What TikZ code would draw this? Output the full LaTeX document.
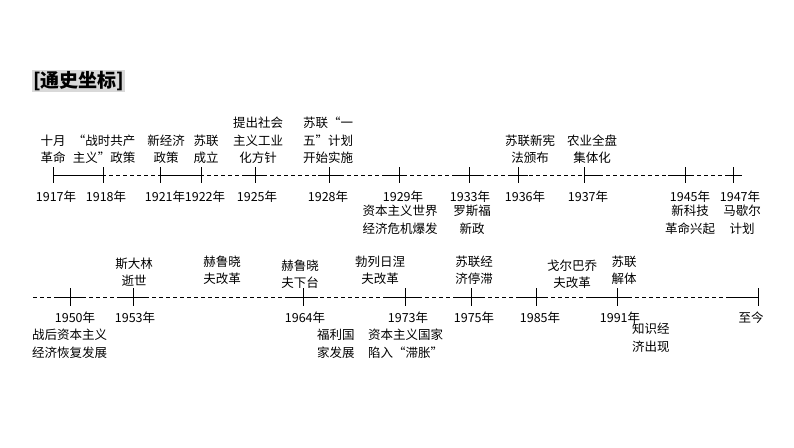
\documentclass[tikz,border=0pt]{standalone}
\usepackage{fontspec}
\setmainfont{Noto Sans CJK SC}
\begin{document}
\begin{tikzpicture}[x=1pt,y=-1pt,
  lab/.style={inner sep=0pt,align=center,font=\fontsize{12.5}{17.5}\selectfont},
  labl/.style={lab,align=left,anchor=north west},
  yr/.style={lab,anchor=center},
  axis/.style={line width=0.6pt},
  tick/.style={line width=0.6pt}]
\useasboundingbox (0,0) rectangle (794,447);
\node[fill=black!15,inner sep=1pt,anchor=west,font=\fontsize{19}{22}\selectfont\bfseries] (title) at (32,81) {[通史坐标]};
% top axis
\coordinate (ta) at (53,175); \coordinate (tb) at (742,175);
\draw[axis,dashed,dash pattern=on 4pt off 3pt] (ta) -- (tb);
\foreach \n/\x in {t1917/53,t1918/103,t1921/160,t1922/201,t1925/255,t1928/329,t1929/399,t1933/469,t1936/518,t1937/584,t1945/685,t1947/733}{
  \coordinate (\n) at (\x,175);
  \draw[tick] (\x,167) -- (\x,183);
}
\draw[axis] (t1917) -- (t1918);
\draw[axis] (t1921) -- (t1922);
\draw[axis] (244,175) -- (266,175);
\draw[axis] (318,175) -- (340,175);
\draw[axis] (385,175) -- (405,175);
\draw[axis] (453,175) -- (480,175);
\draw[axis] (508,175) -- (528,175);
\draw[axis] (584,175) -- (600,175);
\draw[axis] (668,175) -- (692,175);
\draw[axis] (728,175) -- (742,175);
% top labels
\node[lab,anchor=south] (a1) at (53,164) {十月\\革命};
\node[lab,anchor=south] (a2) at (104,164) {“战时共产\\主义”政策};
\node[lab,anchor=south] (a3) at (166,164) {新经济\\政策};
\node[lab,anchor=south] (a4) at (206,164) {苏联\\成立};
\node[lab,anchor=south] (a5) at (258,164) {提出社会\\主义工业\\化方针};
\node[lab,anchor=south] (a6) at (328,164) {苏联“一\\五”计划\\开始实施};
\node[lab,anchor=south] (a7) at (530,164) {苏联新宪\\法颁布};
\node[lab,anchor=south] (a8) at (592,164) {农业全盘\\集体化};
% top years
\node[yr] (y1) at (56,197) {1917年};
\node[yr] (y2) at (106,197) {1918年};
\node[yr] (y3) at (165,197) {1921年};
\node[yr] (y4) at (205,197) {1922年};
\node[yr] (y5) at (257,197) {1925年};
\node[yr] (y6) at (328,197) {1928年};
\node[yr] (y7) at (403,197) {1929年};
\node[yr] (y8) at (470,197) {1933年};
\node[yr] (y9) at (525,197) {1936年};
\node[yr] (y10) at (588,197) {1937年};
\node[yr] (y11) at (690,197) {1945年};
\node[yr] (y12) at (740,197) {1947年};
\node[lab,anchor=north] (b1) at (400,205) {资本主义世界\\经济危机爆发};
\node[lab,anchor=north] (b2) at (472,205) {罗斯福\\新政};
\node[lab,anchor=north] (b3) at (690,205) {新科技\\革命兴起};
\node[lab,anchor=north] (b4) at (742,205) {马歇尔\\计划};
% bottom axis
\coordinate (ba) at (33,297); \coordinate (bb) at (758,297);
\draw[axis,dashed,dash pattern=on 4pt off 3pt] (ba) -- (bb);
\foreach \n/\x in {s1950/70,s1953/133,s1964/303,s1973/405,s1975/471,s1985/536,s1991/617,snow/758}{
  \coordinate (\n) at (\x,297);
  \draw[tick] (\x,288) -- (\x,306);
}
\draw[axis] (55,297) -- (82,297);
\draw[axis] (118,297) -- (145,297);
\draw[axis] (288,297) -- (318,297);
\draw[axis] (385,297) -- (420,297);
\draw[axis] (455,297) -- (485,297);
\draw[axis] (520,297) -- (548,297);
\draw[axis] (588,297) -- (628,297);
\draw[axis] (730,297) -- (758,297);
\node[lab,anchor=south] (c1) at (134,287) {斯大林\\逝世};
\node[lab,anchor=south] (c2) at (222,285) {赫鲁晓\\夫改革};
\node[lab,anchor=south] (c3) at (300,289) {赫鲁晓\\夫下台};
\node[lab,anchor=south] (c4) at (380,285) {勃列日涅\\夫改革};
\node[lab,anchor=south] (c5) at (474,285) {苏联经\\济停滞};
\node[lab,anchor=south] (c6) at (572,289) {戈尔巴乔\\夫改革};
\node[lab,anchor=south] (c7) at (624,285) {苏联\\解体};
\node[yr] (z1) at (75,318) {1950年};
\node[yr] (z2) at (135,318) {1953年};
\node[yr] (z3) at (305,318) {1964年};
\node[yr] (z4) at (408,318) {1973年};
\node[yr] (z5) at (474,318) {1975年};
\node[yr] (z6) at (540,318) {1985年};
\node[yr] (z7) at (620,318) {1991年};
\node[yr] (z8) at (751,318) {至今};
\node[labl] (d1) at (32,329) {战后资本主义\\经济恢复发展};
\node[labl] (d2) at (317,329) {福利国\\家发展};
\node[labl] (d3) at (368,329) {资本主义国家\\陷入“滞胀”};
\node[labl] (d4) at (632,323) {知识经\\济出现};
\end{tikzpicture}
\end{document}
